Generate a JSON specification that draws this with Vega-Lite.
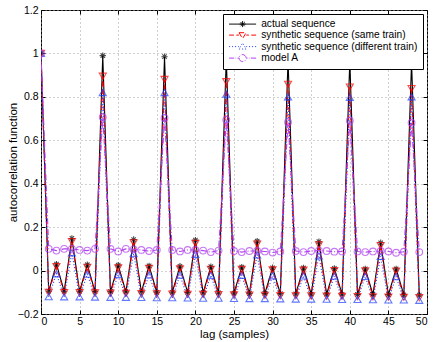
{
  "$schema": "https://vega.github.io/schema/vega-lite/v6.json",
  "width": 386,
  "height": 304,
  "autosize": {"type": "none"},
  "padding": {"left": 41, "top": 10, "right": 9, "bottom": 28},
  "background": "white",
  "config": {
    "font": "Liberation Sans",
    "view": {"stroke": "black", "strokeWidth": 1},
    "axis": {
      "labelFont": "Liberation Sans", "labelFontSize": 10.5, "labelColor": "black",
      "titleFont": "Liberation Sans", "titleFontSize": 11.5, "titleFontWeight": "normal", "titleColor": "black",
      "tickColor": "black", "tickSize": -4, "domain": false,
      "gridColor": "#a0a0a0", "gridDash": [1, 3], "gridWidth": 1
    }
  },
  "data": {"values": [
    {"lag":0,"s":"actual","v":1.0},{"lag":1,"s":"actual","v":-0.095},{"lag":2,"s":"actual","v":0.030},{"lag":3,"s":"actual","v":-0.095},{"lag":4,"s":"actual","v":0.148},{"lag":5,"s":"actual","v":-0.095},{"lag":6,"s":"actual","v":0.027},{"lag":7,"s":"actual","v":-0.097},
    {"lag":8,"s":"actual","v":0.990},{"lag":9,"s":"actual","v":-0.097},{"lag":10,"s":"actual","v":0.025},{"lag":11,"s":"actual","v":-0.098},{"lag":12,"s":"actual","v":0.143},{"lag":13,"s":"actual","v":-0.098},{"lag":14,"s":"actual","v":0.022},{"lag":15,"s":"actual","v":-0.100},
    {"lag":16,"s":"actual","v":0.985},{"lag":17,"s":"actual","v":-0.100},{"lag":18,"s":"actual","v":0.020},{"lag":19,"s":"actual","v":-0.101},{"lag":20,"s":"actual","v":0.140},{"lag":21,"s":"actual","v":-0.102},{"lag":22,"s":"actual","v":0.018},{"lag":23,"s":"actual","v":-0.103},
    {"lag":24,"s":"actual","v":0.978},{"lag":25,"s":"actual","v":-0.104},{"lag":26,"s":"actual","v":0.016},{"lag":27,"s":"actual","v":-0.105},{"lag":28,"s":"actual","v":0.136},{"lag":29,"s":"actual","v":-0.105},{"lag":30,"s":"actual","v":0.013},{"lag":31,"s":"actual","v":-0.106},
    {"lag":32,"s":"actual","v":0.972},{"lag":33,"s":"actual","v":-0.107},{"lag":34,"s":"actual","v":0.012},{"lag":35,"s":"actual","v":-0.108},{"lag":36,"s":"actual","v":0.133},{"lag":37,"s":"actual","v":-0.108},{"lag":38,"s":"actual","v":0.010},{"lag":39,"s":"actual","v":-0.109},
    {"lag":40,"s":"actual","v":0.966},{"lag":41,"s":"actual","v":-0.110},{"lag":42,"s":"actual","v":0.008},{"lag":43,"s":"actual","v":-0.110},{"lag":44,"s":"actual","v":0.128},{"lag":45,"s":"actual","v":-0.111},{"lag":46,"s":"actual","v":0.008},{"lag":47,"s":"actual","v":-0.112},
    {"lag":48,"s":"actual","v":0.960},{"lag":49,"s":"actual","v":-0.113},

    {"lag":0,"s":"same","v":1.0},{"lag":1,"s":"same","v":-0.100},{"lag":2,"s":"same","v":0.018},{"lag":3,"s":"same","v":-0.101},{"lag":4,"s":"same","v":0.133},{"lag":5,"s":"same","v":-0.102},{"lag":6,"s":"same","v":0.015},{"lag":7,"s":"same","v":-0.103},
    {"lag":8,"s":"same","v":0.895},{"lag":9,"s":"same","v":-0.104},{"lag":10,"s":"same","v":0.012},{"lag":11,"s":"same","v":-0.105},{"lag":12,"s":"same","v":0.128},{"lag":13,"s":"same","v":-0.106},{"lag":14,"s":"same","v":0.010},{"lag":15,"s":"same","v":-0.107},
    {"lag":16,"s":"same","v":0.880},{"lag":17,"s":"same","v":-0.108},{"lag":18,"s":"same","v":0.008},{"lag":19,"s":"same","v":-0.109},{"lag":20,"s":"same","v":0.125},{"lag":21,"s":"same","v":-0.110},{"lag":22,"s":"same","v":0.006},{"lag":23,"s":"same","v":-0.111},
    {"lag":24,"s":"same","v":0.870},{"lag":25,"s":"same","v":-0.112},{"lag":26,"s":"same","v":0.005},{"lag":27,"s":"same","v":-0.113},{"lag":28,"s":"same","v":0.122},{"lag":29,"s":"same","v":-0.114},{"lag":30,"s":"same","v":0.003},{"lag":31,"s":"same","v":-0.115},
    {"lag":32,"s":"same","v":0.858},{"lag":33,"s":"same","v":-0.116},{"lag":34,"s":"same","v":0.002},{"lag":35,"s":"same","v":-0.117},{"lag":36,"s":"same","v":0.118},{"lag":37,"s":"same","v":-0.118},{"lag":38,"s":"same","v":0.000},{"lag":39,"s":"same","v":-0.119},
    {"lag":40,"s":"same","v":0.845},{"lag":41,"s":"same","v":-0.120},{"lag":42,"s":"same","v":-0.001},{"lag":43,"s":"same","v":-0.121},{"lag":44,"s":"same","v":0.115},{"lag":45,"s":"same","v":-0.122},{"lag":46,"s":"same","v":-0.002},{"lag":47,"s":"same","v":-0.123},
    {"lag":48,"s":"same","v":0.838},{"lag":49,"s":"same","v":-0.125},

    {"lag":0,"s":"diff","v":1.0},{"lag":1,"s":"diff","v":-0.120},{"lag":2,"s":"diff","v":-0.015},{"lag":3,"s":"diff","v":-0.121},{"lag":4,"s":"diff","v":0.082},{"lag":5,"s":"diff","v":-0.121},{"lag":6,"s":"diff","v":-0.017},{"lag":7,"s":"diff","v":-0.122},
    {"lag":8,"s":"diff","v":0.820},{"lag":9,"s":"diff","v":-0.123},{"lag":10,"s":"diff","v":-0.018},{"lag":11,"s":"diff","v":-0.123},{"lag":12,"s":"diff","v":0.078},{"lag":13,"s":"diff","v":-0.124},{"lag":14,"s":"diff","v":-0.020},{"lag":15,"s":"diff","v":-0.125},
    {"lag":16,"s":"diff","v":0.820},{"lag":17,"s":"diff","v":-0.125},{"lag":18,"s":"diff","v":-0.021},{"lag":19,"s":"diff","v":-0.126},{"lag":20,"s":"diff","v":0.075},{"lag":21,"s":"diff","v":-0.127},{"lag":22,"s":"diff","v":-0.022},{"lag":23,"s":"diff","v":-0.127},
    {"lag":24,"s":"diff","v":0.813},{"lag":25,"s":"diff","v":-0.128},{"lag":26,"s":"diff","v":-0.022},{"lag":27,"s":"diff","v":-0.129},{"lag":28,"s":"diff","v":0.072},{"lag":29,"s":"diff","v":-0.129},{"lag":30,"s":"diff","v":-0.024},{"lag":31,"s":"diff","v":-0.130},
    {"lag":32,"s":"diff","v":0.800},{"lag":33,"s":"diff","v":-0.131},{"lag":34,"s":"diff","v":-0.025},{"lag":35,"s":"diff","v":-0.131},{"lag":36,"s":"diff","v":0.068},{"lag":37,"s":"diff","v":-0.132},{"lag":38,"s":"diff","v":-0.026},{"lag":39,"s":"diff","v":-0.133},
    {"lag":40,"s":"diff","v":0.798},{"lag":41,"s":"diff","v":-0.133},{"lag":42,"s":"diff","v":-0.027},{"lag":43,"s":"diff","v":-0.134},{"lag":44,"s":"diff","v":0.065},{"lag":45,"s":"diff","v":-0.135},{"lag":46,"s":"diff","v":-0.028},{"lag":47,"s":"diff","v":-0.135},
    {"lag":48,"s":"diff","v":0.800},{"lag":49,"s":"diff","v":-0.137},

    {"lag":0,"s":"modelA","v":1.0},{"lag":1,"s":"modelA","v":0.100},{"lag":2,"s":"modelA","v":0.092},{"lag":3,"s":"modelA","v":0.100},{"lag":4,"s":"modelA","v":0.100},{"lag":5,"s":"modelA","v":0.095},{"lag":6,"s":"modelA","v":0.092},{"lag":7,"s":"modelA","v":0.100},
    {"lag":8,"s":"modelA","v":0.706},{"lag":9,"s":"modelA","v":0.100},{"lag":10,"s":"modelA","v":0.088},{"lag":11,"s":"modelA","v":0.100},{"lag":12,"s":"modelA","v":0.098},{"lag":13,"s":"modelA","v":0.095},{"lag":14,"s":"modelA","v":0.090},{"lag":15,"s":"modelA","v":0.095},
    {"lag":16,"s":"modelA","v":0.703},{"lag":17,"s":"modelA","v":0.095},{"lag":18,"s":"modelA","v":0.088},{"lag":19,"s":"modelA","v":0.095},{"lag":20,"s":"modelA","v":0.095},{"lag":21,"s":"modelA","v":0.092},{"lag":22,"s":"modelA","v":0.085},{"lag":23,"s":"modelA","v":0.092},
    {"lag":24,"s":"modelA","v":0.694},{"lag":25,"s":"modelA","v":0.090},{"lag":26,"s":"modelA","v":0.085},{"lag":27,"s":"modelA","v":0.090},{"lag":28,"s":"modelA","v":0.090},{"lag":29,"s":"modelA","v":0.088},{"lag":30,"s":"modelA","v":0.083},{"lag":31,"s":"modelA","v":0.088},
    {"lag":32,"s":"modelA","v":0.683},{"lag":33,"s":"modelA","v":0.090},{"lag":34,"s":"modelA","v":0.085},{"lag":35,"s":"modelA","v":0.090},{"lag":36,"s":"modelA","v":0.092},{"lag":37,"s":"modelA","v":0.090},{"lag":38,"s":"modelA","v":0.087},{"lag":39,"s":"modelA","v":0.088},
    {"lag":40,"s":"modelA","v":0.690},{"lag":41,"s":"modelA","v":0.088},{"lag":42,"s":"modelA","v":0.085},{"lag":43,"s":"modelA","v":0.088},{"lag":44,"s":"modelA","v":0.090},{"lag":45,"s":"modelA","v":0.088},{"lag":46,"s":"modelA","v":0.082},{"lag":47,"s":"modelA","v":0.087},
    {"lag":48,"s":"modelA","v":0.681},{"lag":49,"s":"modelA","v":0.085}
  ]},
  "resolve": {"axis": {"x": "independent", "y": "independent"}},
  "layer": [
    {
      "mark": {"type": "line", "strokeWidth": 1.1, "clip": true},
      "encoding": {
        "x": {"field": "lag", "type": "quantitative", "scale": {"domain": [0, 50], "nice": false},
          "axis": {"orient": "bottom", "values": [0,5,10,15,20,25,30,35,40,45,50], "grid": true, "title": "lag (samples)", "labelPadding": 6, "titlePadding": 2}},
        "y": {"field": "v", "type": "quantitative", "scale": {"domain": [-0.2, 1.2], "nice": false, "zero": false},
          "axis": {"orient": "left", "values": [-0.2,0,0.2,0.4,0.6,0.8,1,1.2], "format": "~g", "grid": true, "title": "autocorrelation function", "labelPadding": 7, "titleX": -23}},
        "color": {"field": "s", "type": "nominal",
          "scale": {"domain": ["actual", "same", "diff", "modelA"], "range": ["#000000", "#ff0000", "#2040ff", "#b040f0"]},
          "legend": {
            "title": null, "orient": "top-right", "offset": 4,
            "labelExpr": "datum.value === 'actual' ? 'actual sequence' : datum.value === 'same' ? 'synthetic sequence (same train)' : datum.value === 'diff' ? 'synthetic sequence (different train)' : 'model A'",
            "labelFont": "Liberation Sans", "labelFontSize": 10.2, "labelColor": "black", "labelLimit": 400,
            "symbolSize": 64, "labelOffset": 23, "rowPadding": -0.5, "padding": 5,
            "strokeColor": "black", "fillColor": "white", "cornerRadius": 0,
            "symbolStrokeWidth": 1,
            "encode": {"symbols": {"update": {
              "shape": {"signal": "datum.value === 'actual' ? 'M-1,0H5.75M1.625,0H3.125M2.375,-0.75V0.75M1.845,-0.53L2.905,0.53M1.845,0.53L2.905,-0.53' : datum.value === 'same' ? 'M-1,0H0.2M0.8,0H1.45M1.5,-0.6L3.25,-0.6L2.375,0.9ZM3.3,0H3.95M4.55,0H5.75' : datum.value === 'diff' ? 'M-1,0H-0.75M-0.25,0H0M0.5,0H0.75M1.25,0H1.45M1.5,0.6L3.25,0.6L2.375,-0.9ZM3.3,0H3.5M4,0H4.25M4.75,0H5M5.5,0H5.75' : 'M-1,0H0.25M0.6,0H0.75M1.1,0H1.5M1.5,0A0.875,0.875 0 1,0 3.25,0A0.875,0.875 0 1,0 1.5,0M3.25,0H3.6M3.95,0H4.1M4.45,0H5.75'"},
              "fill": {"value": "transparent"},
              "strokeDash": {"value": [1, 0]}
            }}}
          }},
        "strokeDash": {"field": "s", "type": "nominal",
          "scale": {"domain": ["actual", "same", "diff", "modelA"], "range": [[1, 0], [5, 3], [1, 2], [6, 2, 1, 2]]},
          "legend": null}
      }
    },
    {
      "transform": [{"filter": "datum.s === 'actual'"}],
      "mark": {"type": "point", "filled": false, "strokeWidth": 1.1, "clip": true, "color": "#000000", "size": 40,
        "shape": "M-1,0L1,0M0,-1L0,1M-0.7,-0.7L0.7,0.7M-0.7,0.7L0.7,-0.7"},
      "encoding": {
        "x": {"field": "lag", "type": "quantitative",
          "axis": {"orient": "top", "values": [0,5,10,15,20,25,30,35,40,45,50], "labels": false, "grid": false, "title": null}},
        "y": {"field": "v", "type": "quantitative",
          "axis": {"orient": "right", "values": [-0.2,0,0.2,0.4,0.6,0.8,1,1.2], "labels": false, "grid": false, "title": null}}
      }
    },
    {
      "transform": [{"filter": "datum.s === 'same'"}],
      "mark": {"type": "point", "filled": false, "strokeWidth": 1.1, "clip": true, "color": "#ff0000", "size": 50, "shape": "triangle-down"},
      "encoding": {
        "x": {"field": "lag", "type": "quantitative", "axis": null},
        "y": {"field": "v", "type": "quantitative", "axis": null}
      }
    },
    {
      "transform": [{"filter": "datum.s === 'diff'"}],
      "mark": {"type": "point", "filled": false, "strokeWidth": 1.1, "clip": true, "color": "#2040ff", "size": 50, "shape": "triangle-up"},
      "encoding": {
        "x": {"field": "lag", "type": "quantitative", "axis": null},
        "y": {"field": "v", "type": "quantitative", "axis": null}
      }
    },
    {
      "transform": [{"filter": "datum.s === 'modelA'"}],
      "mark": {"type": "point", "filled": false, "strokeWidth": 1.1, "clip": true, "color": "#b040f0", "size": 45, "shape": "circle"},
      "encoding": {
        "x": {"field": "lag", "type": "quantitative", "axis": null},
        "y": {"field": "v", "type": "quantitative", "axis": null}
      }
    }
  ]
}
